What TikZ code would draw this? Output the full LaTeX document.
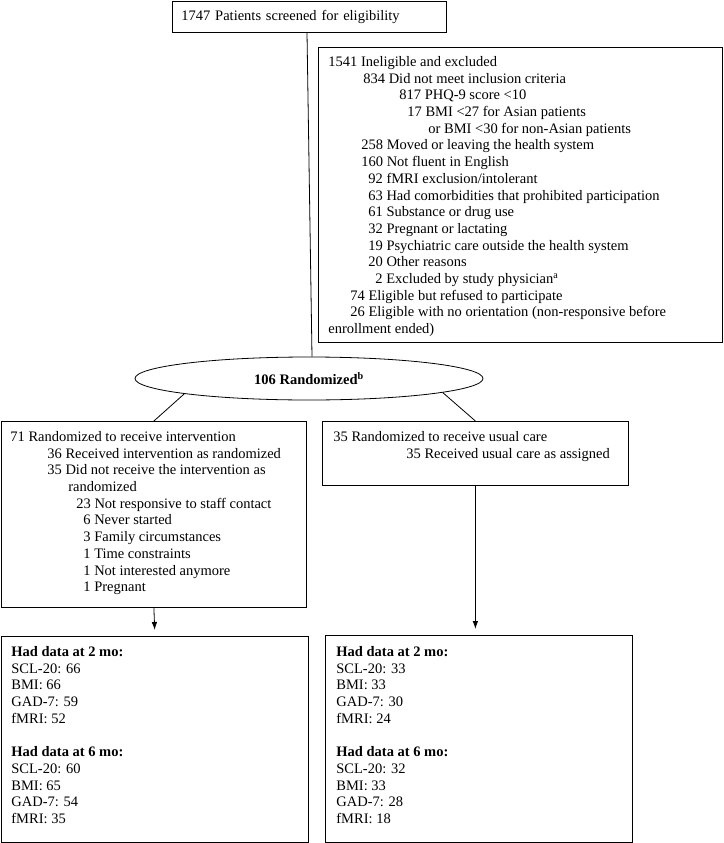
\documentclass[tikz,border=0pt]{standalone}
\usepackage{fontspec}
\setmainfont{Liberation Serif}
\usepackage{tikz}
\usetikzlibrary{shapes,arrows.meta}

\newcommand{\indentby}[1]{\hspace*{#1pt}}

\begin{document}
\begin{tikzpicture}[x=1pt,y=-1pt,line width=0.8pt,
    box/.style={draw,rectangle,inner sep=0pt,anchor=north west},
    txt/.style={anchor=north west,align=left,inner sep=0pt,
      font=\fontsize{14.5}{16.7}\selectfont},
    >={Latex[length=8pt,width=5.5pt]}]
  \useasboundingbox (0,0) rectangle (723,843);
  \node at (172,1) [box,txt,text width=256pt,inner xsep=9pt,minimum height=31pt] (screen)
    {1747 Patients screened for eligibility};
  \node at (318,47) [box,minimum width=404pt,minimum height=295pt] (excl) {};
  \node at (328,56) [txt] (excltext) {1541 Ineligible and excluded\\
    \indentby{35}834 Did not meet inclusion criteria\\
    \indentby{71}817 PHQ-9 score <10\\
    \indentby{79}17 BMI <27 for Asian patients\\
    \indentby{100}or BMI <30 for non-Asian patients\\
    \indentby{33}258 Moved or leaving the health system\\
    \indentby{33}160 Not fluent in English\\
    \indentby{40}92 fMRI exclusion/intolerant\\
    \indentby{40}63 Had comorbidities that prohibited participation\\
    \indentby{40}61 Substance or drug use\\
    \indentby{40}32 Pregnant or lactating\\
    \indentby{40}19 Psychiatric care outside the health system\\
    \indentby{40}20 Other reasons\\
    \indentby{47}2 Excluded by study physician\textsuperscript{a}\\
    \indentby{22}74 Eligible but refused to participate\\
    \indentby{22}26 Eligible with no orientation (non-responsive before\\
    enrollment ended)};
  \node at (309,378.5) [draw,ellipse,minimum width=348pt,minimum height=43pt,inner sep=0pt,
    font=\fontsize{14.5}{16.7}\selectfont\bfseries] (rand) {106 Randomized\textsuperscript{b}};
  \node at (1,421) [box,minimum width=305pt,minimum height=186pt] (intbox) {};
  \node at (10,431) [txt] (inttext) {71 Randomized to receive intervention\\
    \indentby{37}36 Received intervention as randomized\\
    \indentby{37}35 Did not receive the intervention as\\
    \indentby{58}randomized\\
    \indentby{66}23 Not responsive to staff contact\\
    \indentby{73}6 Never started\\
    \indentby{73}3 Family circumstances\\
    \indentby{73}1 Time constraints\\
    \indentby{73}1 Not interested anymore\\
    \indentby{73}1 Pregnant};
  \node at (322,421) [box,minimum width=306pt,minimum height=64pt] (carebox) {};
  \node at (333,431) [txt] (caretext) {35 Randomized to receive usual care\\
    \indentby{73}35 Received usual care as assigned};
  \node at (1,636) [box,minimum width=307pt,minimum height=206pt] (intdata) {};
  \node at (11,646) [txt] (intdatatext) {\textbf{Had data at 2 mo:}\\
    SCL-20: 66\\ BMI: 66\\ GAD-7: 59\\ fMRI: 52\\[16.7pt]
    \textbf{Had data at 6 mo:}\\
    SCL-20: 60\\ BMI: 65\\ GAD-7: 54\\ fMRI: 35};
  \node at (325,635) [box,minimum width=307pt,minimum height=207pt] (caredata) {};
  \node at (336,646) [txt] (caredatatext) {\textbf{Had data at 2 mo:}\\
    SCL-20: 33\\ BMI: 33\\ GAD-7: 30\\ fMRI: 24\\[16.7pt]
    \textbf{Had data at 6 mo:}\\
    SCL-20: 32\\ BMI: 33\\ GAD-7: 28\\ fMRI: 18};
  \draw ([xshift=135pt]screen.south west) -- ([xshift=3pt]rand.north);
  \draw (rand.187.4) -- (intbox.north);
  \draw (rand.-6.7) -- (carebox.north);
  \draw [->,shorten >=6pt] (intbox.south) -- (intdata.north);
  \draw [->,shorten >=6pt] (carebox.south) -- (carebox.south |- caredata.north);
\end{tikzpicture}
\end{document}
